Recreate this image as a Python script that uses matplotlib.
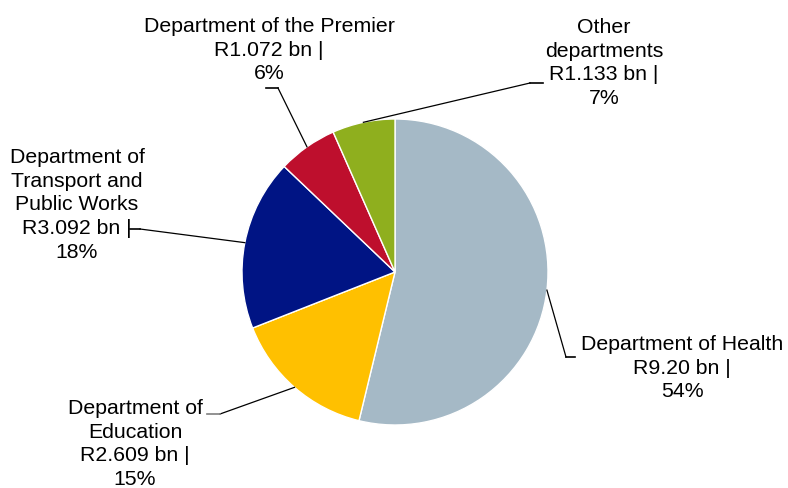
import numpy as np
import matplotlib.pyplot as plt

plt.rcParams['font.family'] = ['Liberation Sans', 'DejaVu Sans']

# spending by department, R billion
departments = ['Department of Health', 'Department of\nEducation',
               'Department of\nTransport and\nPublic Works',
               'Department of the Premier', 'Other\ndepartments']
value_text = ['9.20', '2.609', '3.092', '1.072', '1.133']
values = np.array([float(v) for v in value_text])
colors = ['#A5B9C6', '#FFC000', '#001484', '#BE0F2D', '#8FAF1E']

W, H = 788, 488
cx, cy, R = 395, 272, 153  # pie centre/radius in pixels from top-left

# label block centres, elbow of the leader line and end of the short tick
label_xy = [(682, 368), (135, 444), (77, 205), (269, 50), (604, 63)]
elbow_xy = [(566, 357), (220, 414), (140, 229), (278, 88), (530, 83)]
tick_xy = [(575, 357), (207, 414), (130, 229), (266, 88), (543, 83)]
tick_colors = ['black', '#7F7F7F', 'black', 'black', 'black']


def fy(y):
    return H - y


fig = plt.figure(figsize=(W / 100, H / 100), dpi=100)
ax = fig.add_axes([0, 0, 1, 1])

wedges, _ = ax.pie(values, colors=colors, startangle=90, counterclock=False,
                   center=(cx, fy(cy)), radius=R,
                   wedgeprops=dict(edgecolor='white', linewidth=1))
ax.set_xlim(0, W)
ax.set_ylim(0, H)
ax.set_aspect('equal')
ax.axis('off')

pct = values / values.sum() * 100
for i, w in enumerate(wedges):
    mid = np.deg2rad((w.theta1 + w.theta2) / 2)
    px = cx + R * np.cos(mid)
    py = fy(cy) + R * np.sin(mid)
    ex, ey = elbow_xy[i]
    tx, ty = tick_xy[i]
    # leader line: slanted part to the wedge, short flat tick by the label
    ax.plot([px, ex], [py, fy(ey)], color='black', lw=0.9)
    ax.plot([ex, tx], [fy(ey), fy(ty)], color=tick_colors[i], lw=1.2)
    txt = f'{departments[i]}\nR{value_text[i]} bn |\n{pct[i]:.0f}%'
    lx, ly = label_xy[i]
    ax.text(lx, fy(ly), txt, ha='center', va='center', fontsize=15.3,
            linespacing=1.33, color='black')

plt.savefig('out.png', dpi=100)
